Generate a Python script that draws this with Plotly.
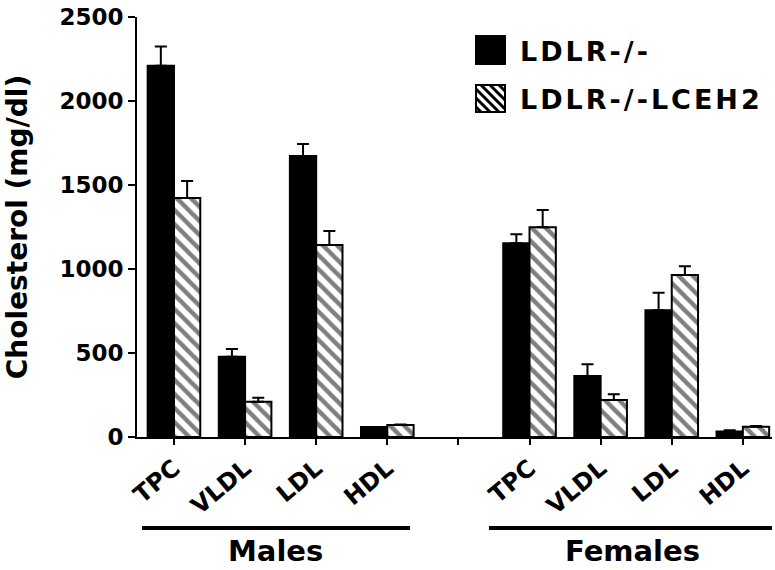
import plotly.graph_objects as go

categories = ["TPC", "VLDL", "LDL", "HDL", "", "TPC", "VLDL", "LDL", "HDL"]
positions = [0, 1, 2, 3, 5, 6, 7, 8]
pos_labels = [0, 1, 2, 3, 4, 5, 6, 7, 8]

ldlr = [2210, 478, 1673, 60, 1153, 363, 754, 32]
ldlr_err = [115, 46, 71, 0, 54, 70, 105, 8]
lceh2 = [1423, 210, 1143, 71, 1248, 220, 964, 61]
lceh2_err = [101, 24, 83, 4, 103, 34, 52, 5]

groups = ["Males", "Females"]
group_centers = [1.43, 6.45]
series_names = ["LDLR-/-", "LDLR-/-LCEH2"]

FONT = "DejaVu Sans"
W = 0.37

# plot-area geometry in page pixels
L, R, T, B = 137, 772, 17, 437
FW, FH = 775, 570
def px(x):
    return (x - L) / (R - L)
def py(y):
    return (B - y) / (B - T)

fig = go.Figure()
fig.add_trace(go.Bar(
    x=positions, y=ldlr, name=series_names[0], width=W, offset=-W,
    marker=dict(color="black", line=dict(color="black", width=2)),
    error_y=dict(type="data", array=ldlr_err, arrayminus=[0]*len(ldlr),
                 symmetric=False, color="black", thickness=2, width=6),
))
fig.add_trace(go.Bar(
    x=positions, y=lceh2, name=series_names[1], width=W, offset=0,
    marker=dict(color="white", line=dict(color="black", width=2),
                pattern=dict(shape="\\", fgcolor="black", bgcolor="white",
                             size=10, solidity=0.45)),
    error_y=dict(type="data", array=lceh2_err, arrayminus=[0]*len(lceh2),
                 symmetric=False, color="black", thickness=2, width=6),
))

# group lines and labels
line_spans = [(-0.45, 3.32), (4.43, 8.41)]
for (x0, x1), g, c in zip(line_spans, groups, group_centers):
    fig.add_shape(type="line", xref="x", yref="paper", x0=x0, x1=x1,
                  y0=py(528), y1=py(528), line=dict(color="black", width=4))
    fig.add_annotation(text="<b>%s</b>" % g, xref="x", yref="paper",
                       x=c, y=py(551), showarrow=False,
                       font=dict(family=FONT, size=29, color="black"),
                       yanchor="middle")

# manual legend
sq = [(476, 36, 505, 64), (476, 85, 505, 112)]
fig.add_shape(type="rect", xref="paper", yref="paper",
              x0=px(sq[0][0]), x1=px(sq[0][2]), y0=py(sq[0][3]), y1=py(sq[0][1]),
              fillcolor="black", line=dict(color="black", width=2))
x0, y0, x1, y1 = sq[1]
fig.add_shape(type="rect", xref="paper", yref="paper",
              x0=px(x0), x1=px(x1), y0=py(y1), y1=py(y0),
              fillcolor="white", line=dict(color="black", width=2))
s = x1 - x0
h = y1 - y0
for c in range(-h + 5, s, 9):
    xa = max(0, c)
    xb = min(s, h + c)
    if xb - xa < 2:
        continue
    fig.add_shape(type="line", xref="paper", yref="paper",
                  x0=px(x0 + xa), y0=py(y0 + xa - c),
                  x1=px(x0 + xb), y1=py(y0 + xb - c),
                  line=dict(color="black", width=3))
for name, (a, b, c2, d) in zip(series_names, sq):
    fig.add_annotation(text='<b><span style="letter-spacing:3px">%s</span></b>' % name,
                       xref="paper", yref="paper", x=px(518), y=py((b + d) / 2 + 1),
                       xanchor="left", yanchor="middle", showarrow=False,
                       font=dict(family=FONT, size=27, color="black"))

fig.update_layout(
    width=FW, height=FH,
    margin=dict(l=L, r=FW - R, t=T, b=FH - B),
    plot_bgcolor="white", paper_bgcolor="white",
    barmode="overlay",
    showlegend=False,
    font=dict(family=FONT, color="black"),
)
fig.update_xaxes(
    range=[-0.52, 8.41], tickmode="array", tickvals=pos_labels,
    ticktext=["<b>%s</b>" % c for c in categories], tickangle=-40,
    tickfont=dict(family=FONT, size=24, color="black"),
    showline=True, linecolor="black", linewidth=2,
    ticks="outside", ticklen=6, tickwidth=2, tickcolor="black",
    showgrid=False, zeroline=False, automargin=False,
    ticklabeloverflow="allow",
)
fig.update_yaxes(
    range=[0, 2500], tickvals=[0, 500, 1000, 1500, 2000, 2500],
    ticktext=["<b>%d</b>" % v for v in [0, 500, 1000, 1500, 2000, 2500]],
    tickfont=dict(family=FONT, size=23, color="black"),
    title=dict(text="<b>Cholesterol (mg/dl)</b>",
               font=dict(family=FONT, size=28, color="black"), standoff=24),
    showline=True, linecolor="black", linewidth=2,
    ticks="outside", ticklen=7, tickwidth=2, tickcolor="black",
    showgrid=False, zeroline=False, automargin=False,
    ticklabeloverflow="allow",
)

fig.write_html("out.html", config={"displayModeBar": False},
               post_script="document.body.style.margin='0';document.body.style.overflow='hidden';")
